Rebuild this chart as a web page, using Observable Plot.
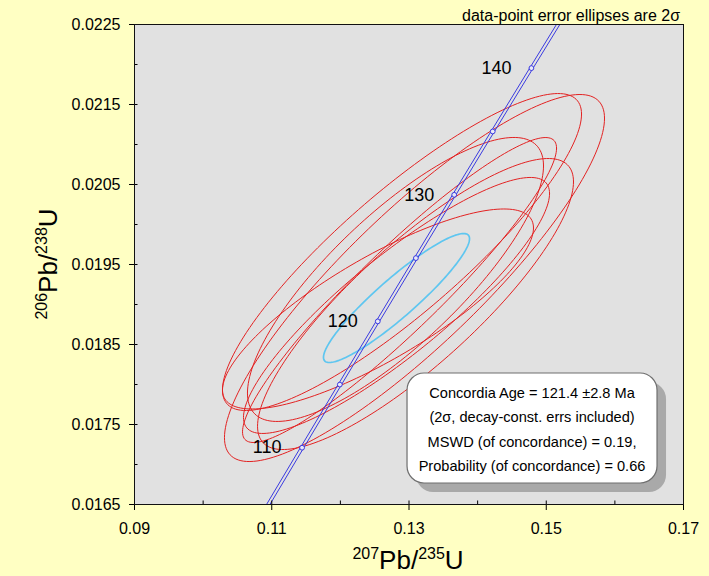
<!DOCTYPE html>
<html><head><meta charset="utf-8">
<script src="https://cdn.jsdelivr.net/npm/d3@7"></script>
<script src="https://cdn.jsdelivr.net/npm/@observablehq/plot@0.6"></script>
<style>
body{margin:0;background:#FFFFC3;}
#chart svg{display:block;}
</style>
</head><body><div id="chart"></div>
<script>
// ---- axis ticks ----
const xMajorTicks = [0.09, 0.11, 0.13, 0.15, 0.17];
const xMinorTicks = [0.10, 0.12, 0.14, 0.16];
const yMajorTicks = [0.0165, 0.0175, 0.0185, 0.0195, 0.0205, 0.0215, 0.0225];
const yMinorTicks = [0.0170, 0.0180, 0.0190, 0.0200, 0.0210, 0.0220];

// ---- concordia curve (age in Ma, 207Pb/235U, 206Pb/238U) ----
const concordiaAge = [105, 110, 115, 120, 125, 130, 135, 140, 145];
const concordia207 = [0.108945, 0.114419, 0.119921, 0.125449, 0.131005, 0.136588, 0.142199, 0.147838, 0.153504];
const concordia206 = [0.016422, 0.017210, 0.017999, 0.018789, 0.019580, 0.020371, 0.021163, 0.021955, 0.022748];
const markerAges = [110, 115, 120, 125, 130, 135, 140];
const labelAges = [110, 120, 130, 140];

// ---- data-point error ellipses (2 sigma) ----
const ellCx  = [0.13080, 0.12898, 0.12862, 0.13095, 0.12803, 0.12818, 0.12548];
const ellCy  = [0.019331, 0.019656, 0.019181, 0.019006, 0.019313, 0.018988, 0.018944];
const ellSx  = [0.02769, 0.02616, 0.02288, 0.02302, 0.02157, 0.02230, 0.02266];
const ellSy  = [0.002294, 0.001981, 0.001906, 0.001819, 0.001775, 0.001600, 0.001250];
const ellRho = [0.87, 0.87, 0.93, 0.84, 0.80, 0.875, 0.81];

// ---- concordia age ellipse ----
const ageCx = 0.12818, ageCy = 0.019081, ageSx = 0.01064, ageSy = 0.000806, ageRho = 0.92;

// ---- annotation text ----
const boxLines = [
  "Concordia Age = 121.4 \u00B12.8 Ma",
  "(2\u03C3, decay-const. errs included)",
  "MSWD (of concordance) = 0.19,",
  "Probability (of concordance) = 0.66"
];
const boxCenter = [0.1480, 0.01745];
const cornerNote = "data-point error ellipses are 2\u03C3";

// ---- build tables ----
function ellipse(id, cx, cy, sx, sy, rho) {
  const pts = [];
  const k = Math.sqrt(1 - rho * rho);
  for (let a = 0; a <= 360; a += 2) {
    const t = a * Math.PI / 180;
    pts.push({id, x: cx + sx * Math.cos(t), y: cy + sy * (rho * Math.cos(t) + k * Math.sin(t))});
  }
  return pts;
}
const redPts = ellCx.flatMap((cx, i) => ellipse(i, cx, ellCy[i], ellSx[i], ellSy[i], ellRho[i]));
const agePts = ellipse(0, ageCx, ageCy, ageSx, ageSy, ageRho);
const conc = concordiaAge.map((t, i) => ({t, x: concordia207[i], y: concordia206[i]}));
const markers = conc.filter(d => markerAges.includes(d.t));
const labels = conc.filter(d => labelAges.includes(d.t));

const font = "'Liberation Sans', Arial, sans-serif";
const blue = "#3a3ae0";

const plot = Plot.plot({
  width: 709, height: 576,
  marginLeft: 134, marginRight: 26, marginTop: 24, marginBottom: 72,
  style: {background: "#FFFFC3", fontFamily: font, fontSize: "16px", color: "#000"},
  x: {domain: [0.09, 0.17], label: null},
  y: {domain: [0.0165, 0.0225], label: null},
  marks: [
    Plot.frame({fill: "#E1E1E1", stroke: null}),
    Plot.line(redPts, {x: "x", y: "y", z: "id", stroke: "#E32222", strokeWidth: 1}),
    Plot.line(agePts, {x: "x", y: "y", stroke: "#5EC6F0", strokeWidth: 1.7}),
    Plot.line(conc, {x: "x", y: "y", stroke: blue, strokeWidth: 1, dx: -1.7, clip: "frame"}),
    Plot.line(conc, {x: "x", y: "y", stroke: blue, strokeWidth: 1, dx: 1.7, clip: "frame"}),
    Plot.dot(markers, {x: "x", y: "y", r: 2.4, stroke: blue, strokeWidth: 1, fill: "#e8e8f8"}),
    Plot.text(labels, {x: "x", y: "y", text: d => String(d.t), dx: -35, fontSize: 18, fill: "#000", textAnchor: "middle"}),
    // inner ticks
    Plot.axisX({ticks: [...xMajorTicks, ...xMinorTicks], tickSize: 3.5, dy: -3.5, tickFormat: () => "", stroke: "#000"}),
    Plot.axisY({ticks: [...yMajorTicks, ...yMinorTicks], tickSize: 3.5, dx: 3.5, tickFormat: () => "", stroke: "#000"}),
    // outer major ticks with labels
    Plot.axisX({ticks: xMajorTicks, tickSize: 6, tickPadding: 12, tickFormat: d => String(+d.toFixed(2)), fontSize: 16, stroke: "#000"}),
    Plot.axisY({ticks: yMajorTicks, tickSize: 5, tickPadding: 9, tickFormat: d => d.toFixed(4), fontSize: 16, stroke: "#000"}),
    Plot.frame({stroke: "#111", strokeWidth: 1})
  ]
});
document.getElementById("chart").appendChild(plot);

const svg = d3.select(plot);
const sx = plot.scale("x"), sy = plot.scale("y");

// result box
const bx = sx.apply(boxCenter[0]), by = sy.apply(boxCenter[1]);
const bw = 250, bh = 110;
const g = svg.append("g");
g.append("rect").attr("x", bx - bw/2 + 9).attr("y", by - bh/2 + 9).attr("width", bw).attr("height", bh)
  .attr("rx", 17).attr("fill", "#A9A9A9");
g.append("rect").attr("x", bx - bw/2).attr("y", by - bh/2).attr("width", bw).attr("height", bh)
  .attr("rx", 17).attr("fill", "#fff").attr("stroke", "#6e6e6e").attr("stroke-width", 1.2);
boxLines.forEach((s, i) => {
  g.append("text").attr("x", bx).attr("y", by - bh/2 + 25 + i * 24.3)
    .attr("text-anchor", "middle").attr("font-family", font).attr("font-size", 14.6)
    .attr("fill", "#000").text(s);
});

// corner note
svg.append("text").attr("x", sx.apply(0.17) - 3).attr("y", 21).attr("text-anchor", "end")
  .attr("font-family", font).attr("font-size", 16).attr("fill", "#000").text(cornerNote);

// axis titles with superscripts
function title(sel, sup1, main1, sup2, main2) {
  sel.append("tspan").attr("font-size", 16).attr("dy", -10).text(sup1);
  sel.append("tspan").attr("font-size", 26).attr("dy", 10).text(main1);
  sel.append("tspan").attr("font-size", 16).attr("dy", -10).text(sup2);
  sel.append("tspan").attr("font-size", 26).attr("dy", 10).text(main2);
}
const xt = svg.append("text").attr("x", 408).attr("y", 569).attr("text-anchor", "middle")
  .attr("font-family", font).attr("fill", "#000");
title(xt, "207", "Pb/", "235", "U");
const yt = svg.append("text").attr("transform", "translate(57,264) rotate(-90)").attr("text-anchor", "middle")
  .attr("font-family", font).attr("fill", "#000");
title(yt, "206", "Pb/", "238", "U");
</script>
</body></html>
